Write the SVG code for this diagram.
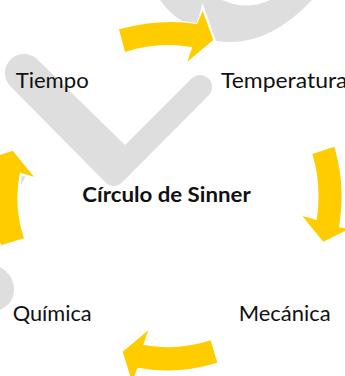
<svg xmlns="http://www.w3.org/2000/svg" width="345" height="376" viewBox="0 0 345 376">
<style>
.bg{fill:#dedede}
.arrow{fill:#ffcc00}
text{font-family:"Lato","Open Sans",sans-serif;font-size:21px;fill:#111}
.title{font-weight:700;font-size:20px}
</style>
<rect width="345" height="376" fill="#fff"/>
<g id="background">
<path class="bg" d="M160,0 Q170,14 182,21 L197,23 L202.5,3 L216,41 Q266,49 312,0 H270 Q247,11 222,0 Z"/>
<path class="bg" d="M125,145 L191.5,78.5 A12,12 0 0 1 208.5,95.5 L121.9,182.6 A11.5,11.5 0 0 1 105.6,182.6 L9.6,85.4 A19,19 0 0 1 36.4,58.6 Z"/>
<path class="bg" d="M0,267 Q14,275 14,290 Q14,303 0,310 Z"/>
<path class="bg" d="M21.5,176 L25.7,176.5 L21,185 Z"/>
</g>
<g id="connectors">
<path class="arrow" d="M119,29.3 Q160,18 197,24 L202.7,11 L213.3,40 L187.3,61.7 L192.3,47.3 Q158,41 125,52 Z"/>
<path class="arrow" d="M312.3,154 L334.3,146.7 Q346,185 339,227.3 L349,229 L323.3,241.7 L302.3,216 L316.7,220 Q322,185 312.3,154 Z"/>
<path class="arrow" d="M210.7,340.3 L217.3,362.7 Q177,375 137.7,367.7 L132,382 L122.7,351.7 L148.3,330.3 L143.3,345 Q178,351 210.7,340.3 Z"/>
<path class="arrow" d="M24,238.3 Q13,205 20,172.7 L34,176.7 L12.7,150.7 L-15,160 L-10,178 Q-8,212 1,245.3 Z"/>
</g>
<g id="node-temperatura"><text x="221" y="88" textLength="126.5" lengthAdjust="spacingAndGlyphs">Temperatura</text></g>
<g id="node-tiempo"><text x="15.7" y="88" textLength="73" lengthAdjust="spacingAndGlyphs">Tiempo</text></g>
<g id="node-centro"><text class="title" x="82.3" y="201.7" textLength="168.4" lengthAdjust="spacingAndGlyphs">Círculo de Sinner</text></g>
<g id="node-quimica"><text x="12.7" y="321" textLength="79" lengthAdjust="spacingAndGlyphs">Química</text></g>
<g id="node-mecanica"><text x="238.7" y="321" textLength="92" lengthAdjust="spacingAndGlyphs">Mecánica</text></g>
</svg>
